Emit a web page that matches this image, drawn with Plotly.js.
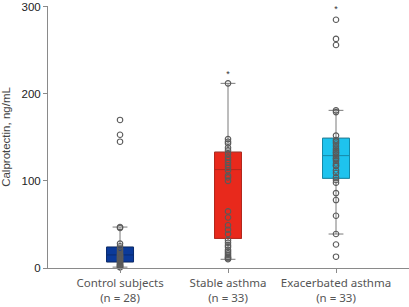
<!DOCTYPE html>
<html><head><meta charset="utf-8">
<script src="https://cdn.plot.ly/plotly-3.0.1.min.js"></script>
<style>html,body{margin:0;padding:0;background:#fff}#chart{width:409px;height:307px}</style>
</head><body><div id="chart"></div>
<script>
const categories = ["Control subjects<br>(n = 28)", "Stable asthma<br>(n = 33)", "Exacerbated asthma<br>(n = 33)"];
const q1 = [7, 34, 103];
const medians = [15, 113, 129];
const q3 = [24, 133, 149];
const lowerWhisker = [1, 10, 39];
const upperWhisker = [47, 212, 181];
const boxColors = ["#0b3a9a", "#e8291c", "#1ec3ee"];
const boxLines = ["#0a2c70", "#b3271c", "#1689a8"];
const controlPoints = [170, 153, 145, 47, 46, 28, 25, 22, 20, 18, 16, 15, 14, 13, 12, 11, 10, 9, 8, 7, 6, 5, 4, 3, 3, 2, 1, 1];
const stablePoints = [212, 148, 145, 143, 138, 135, 131, 127, 124, 121, 118, 115, 112, 106, 104, 100, 65, 58, 49, 44, 39, 32, 29, 26, 24, 21, 19, 17, 15, 13, 12, 11, 10];
const exacPoints = [285, 263, 256, 181, 179, 152, 147, 145, 143, 140, 137, 135, 133, 132, 130, 128, 126, 125, 123, 120, 118, 117, 112, 109, 104, 101, 98, 86, 78, 60, 39, 27, 13];
const starY = [null, 222, 296];
const yTicks = [0, 100, 200, 300];

const pointSets = [controlPoints, stablePoints, exacPoints];
const traces = [];
categories.forEach((c, i) => {
  // whiskers (gray)
  traces.push({
    type: "box", x: [i], q1: [q1[i]], median: [medians[i]], q3: [q3[i]],
    lowerfence: [lowerWhisker[i]], upperfence: [upperWhisker[i]],
    fillcolor: "rgba(0,0,0,0)", line: {color: "#7a7a7a", width: 1},
    width: 0.25, whiskerwidth: 0.55, boxpoints: false, hoverinfo: "skip", showlegend: false
  });
  // coloured box
  traces.push({
    type: "box", x: [i], q1: [q1[i]], median: [medians[i]], q3: [q3[i]],
    lowerfence: [q1[i]], upperfence: [q3[i]],
    fillcolor: boxColors[i], line: {color: boxLines[i], width: 1},
    width: 0.25, whiskerwidth: 0, boxpoints: false, hoverinfo: "skip", showlegend: false
  });
});
categories.forEach((c, i) => {
  traces.push({
    type: "scatter", mode: "markers", x: pointSets[i].map(() => i), y: pointSets[i],
    marker: {symbol: "circle-open", size: 5.5, color: "#5a5a5a", line: {width: 1.1, color: "#5a5a5a"}},
    showlegend: false, hoverinfo: "skip", cliponaxis: false
  });
});
traces.push({
  type: "scatter", mode: "text", x: [0, 1, 2].filter(i => starY[i] !== null), y: starY.filter(v => v !== null),
  text: starY.filter(v => v !== null).map(() => "*"), textposition: "middle center",
  textfont: {size: 9, color: "#333"}, showlegend: false, hoverinfo: "skip", cliponaxis: false
});

const layout = {
  width: 409, height: 307,
  margin: {l: 48, r: 0, t: 6, b: 39},
  paper_bgcolor: "#fff", plot_bgcolor: "#fff",
  font: {family: "Liberation Sans, Arial, sans-serif", color: "#333", size: 11},
  xaxis: {
    range: [-0.667, 2.676], tickvals: [0, 1, 2], ticktext: categories,
    showgrid: false, zeroline: false, showline: true, linecolor: "#8a8a8a", linewidth: 1,
    ticks: "outside", ticklen: 4, tickcolor: "#8a8a8a",
    tickfont: {family: "Noto Sans, Open Sans, sans-serif", size: 11.5, color: "#555"}
  },
  yaxis: {
    range: [0, 300.8], tickvals: yTicks, showgrid: false, zeroline: false,
    showline: true, linecolor: "#8a8a8a", linewidth: 1,
    ticks: "outside", ticklen: 4, tickcolor: "#8a8a8a",
    tickfont: {family: "Liberation Sans, Arial, sans-serif", size: 11.5, color: "#222"},
    title: {text: "Calprotectin, ng/mL", font: {family: "Liberation Sans, Arial, sans-serif", size: 11.5, color: "#444"}, standoff: 8}
  }
};
Plotly.newPlot("chart", traces, layout, {staticPlot: true, displayModeBar: false});
</script></body></html>
